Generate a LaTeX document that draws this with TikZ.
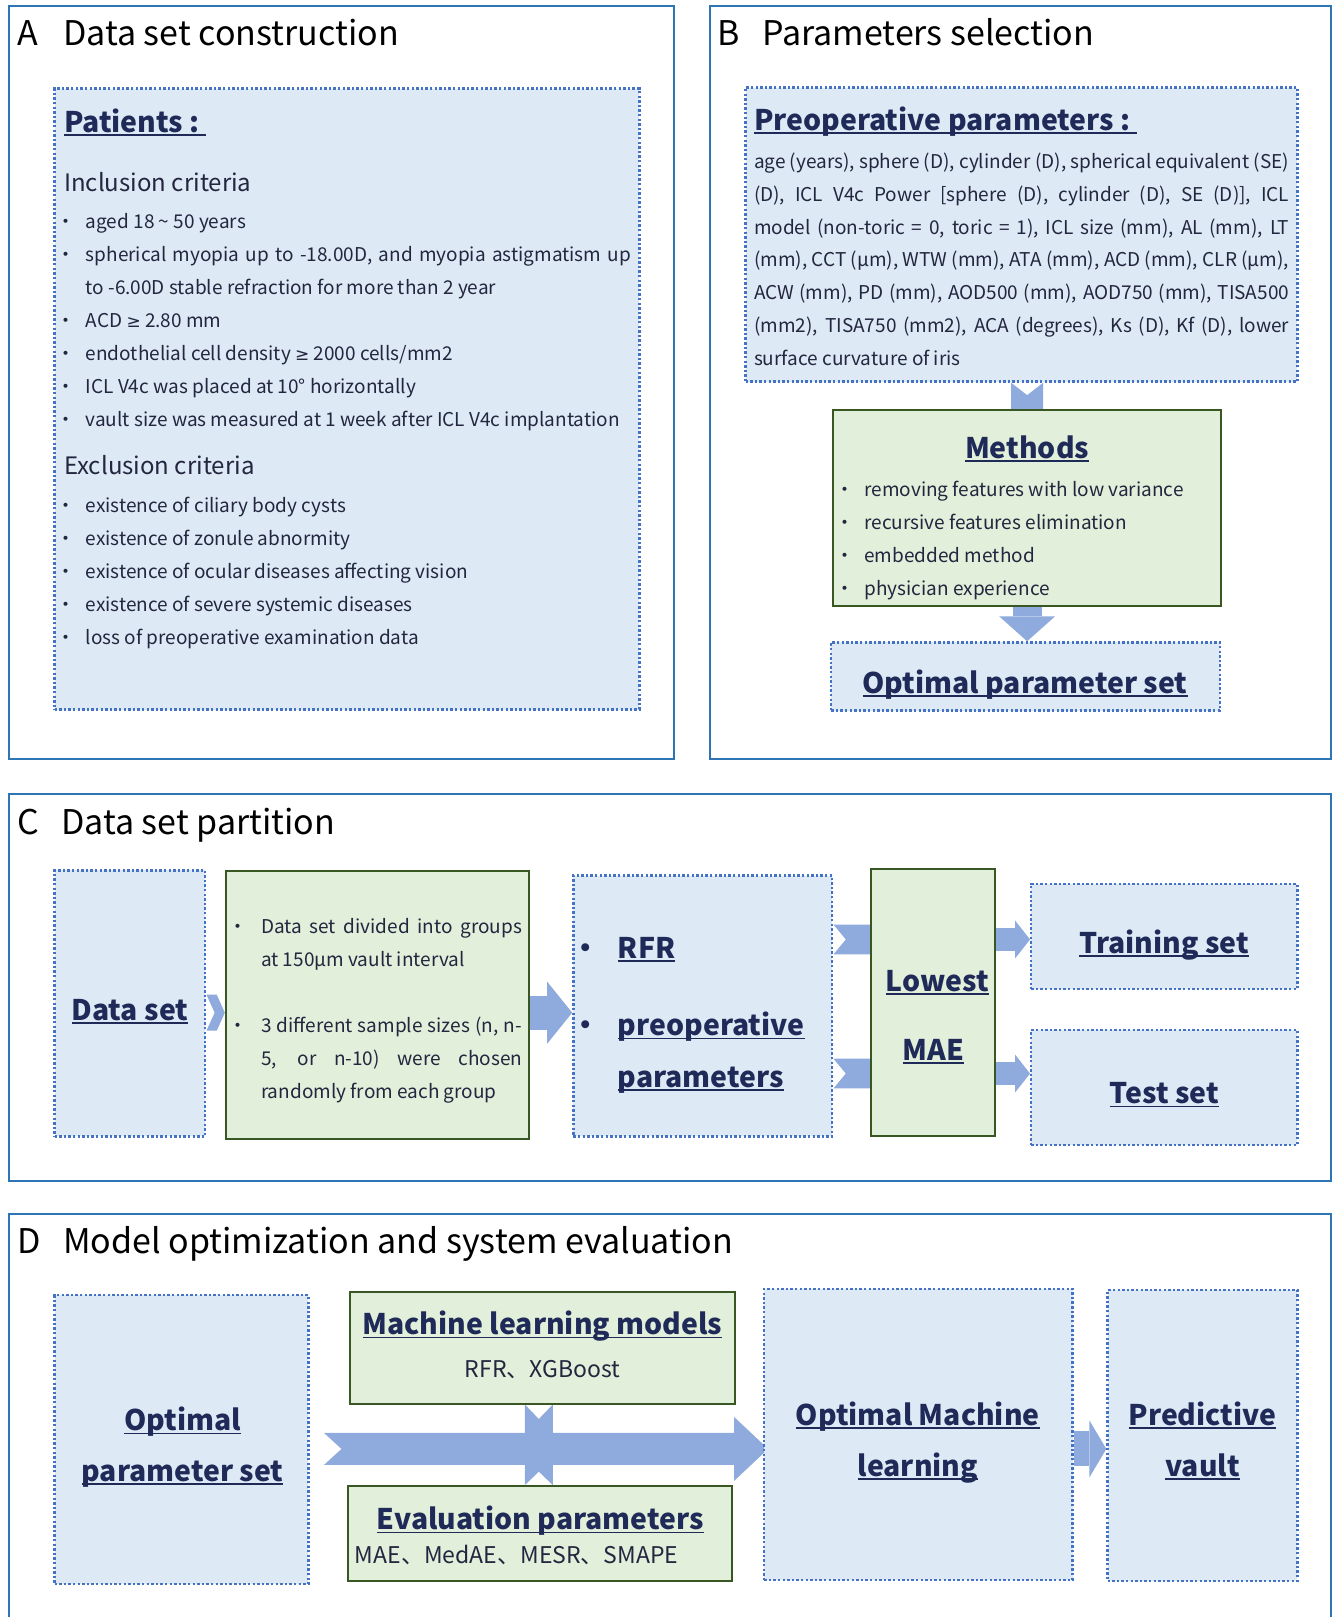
\documentclass[tikz,border=0pt]{standalone}
\usepackage{fontspec}
\setmainfont{Noto Sans CJK SC}
\newfontfamily\symfont{DejaVu Sans}
\usetikzlibrary{arrows.meta,calc,fit,backgrounds}

\definecolor{panelblue}{RGB}{46,117,182}
\definecolor{dotblue}{RGB}{68,114,196}
\definecolor{boxfill}{RGB}{222,233,246}
\definecolor{greenfill}{RGB}{226,239,218}
\definecolor{greenline}{RGB}{56,87,35}
\definecolor{arrowblue}{RGB}{143,170,220}
\definecolor{navy}{RGB}{31,42,88}
\definecolor{textdark}{RGB}{34,38,62}

% underlined heading text
\newsavebox{\hulbox}
\newcommand{\hul}[1]{\sbox{\hulbox}{#1}\rlap{\rule[-3.6pt]{\wd\hulbox}{1.8pt}}\usebox{\hulbox}}
\newcommand{\geqsym}{{\symfont\fontsize{17}{20}\selectfont ≥}}
\hyphenpenalty=10000
\exhyphenpenalty=10000

\begin{document}
\begin{tikzpicture}[x=1.031pt, y=-1.031pt,
    frame/.style={draw=panelblue, line width=2pt, inner sep=0pt},
    dotbox/.style={draw=dotblue, fill=boxfill, line width=2.4pt, dash pattern=on 2.4pt off 2.2pt, inner sep=0pt},
    greenbox/.style={draw=greenline, fill=greenfill, line width=2pt, inner sep=0pt},
    fat/.style={draw=arrowblue, line width=#1},
    paneltitle/.style={font=\fontsize{34}{40}\selectfont, text=black, inner sep=0pt, anchor=mid west, yshift=-10pt},
    head/.style={font=\bfseries\fontsize{28.4}{34}\selectfont, text=navy, inner sep=0pt, anchor=mid, yshift=-8pt},
    sub/.style={font=\fontsize{24}{28}\selectfont, text=textdark, inner sep=0pt, anchor=mid west, yshift=-6pt},
    body/.style={font=\fontsize{19}{33}\selectfont, text=textdark, inner sep=0pt, anchor=mid west, yshift=-5pt},
    para/.style={font=\fontsize{19}{32.8}\selectfont, text=textdark, inner sep=0pt, anchor=base west, align=justify, yshift=-3pt}]
  \useasboundingbox (0,0) rectangle (1292,1568);

  % panel frames
  \node[frame, fit={(9,6) (654,736)}] (panelA) {};
  \node[frame, fit={(688,6) (1291,736)}] (panelB) {};
  \node[frame, fit={(9,770) (1291,1145)}] (panelC) {};
  \node[frame, fit={(9,1177) (1291,1580)}] (panelD) {};
  \node[paneltitle] (tA) at (17,32) {A};
  \node[paneltitle] (tAt) at (61,32) {Data set construction};
  \node[paneltitle] (tB) at (696,32) {B};
  \node[paneltitle] (tBt) at (739,32) {Parameters selection};
  \node[paneltitle] (tC) at (17,797) {C};
  \node[paneltitle] (tCt) at (59,797) {Data set partition};
  \node[paneltitle] (tD) at (17,1203) {D};
  \node[paneltitle] (tDt) at (61,1203) {Model optimization and system evaluation};

  % A
  \node[dotbox, fit={(53,86) (620,688)}] (patients) {};
  \node[head, anchor=mid west] (patT) at (62,118) {\hul{Patients :\ }};
  \node[sub] (incl) at (62,177) {Inclusion criteria};
  \node[sub] (excl) at (62,452) {Exclusion criteria};
  \foreach \y in {214,246,310,342,374,406,489,521,553,585,617}
    \node[body] (bA\y) at (55,\y) {•};
  \foreach \y/\t in {214/{aged 18 \textasciitilde{} 50 years},
      310/{ACD \geqsym{} 2.80 mm},
      342/{endothelial cell density \geqsym{} 2000 cells/mm2},
      374/{ICL V4c was placed at 10° horizontally},
      406/{vault size was measured at 1 week after ICL V4c implantation},
      489/{existence of ciliary body cysts},
      521/{existence of zonule abnormity},
      553/{existence of ocular diseases affecting vision},
      585/{existence of severe systemic diseases},
      617/{loss of preoperative examination data}}
    \node[body] (iA\y) at (83,\y) {\t};
  \node[para, text width=545pt] (iA246) at (83,250.5)
    {spherical myopia up to -18.00D, and myopia astigmatism up\linebreak
     to -6.00D stable refraction for more than 2 year};

  % B
  \node[dotbox, fit={(723,85) (1258,370)}] (preop) {};
  \node[head, anchor=mid west] (preT) at (731,116) {\hul{Preoperative parameters :\ }};
  \node[para, text width=535pt] (preL) at (731,160.5)
    {age (years), sphere (D), cylinder (D), spherical equivalent (SE)\linebreak
     (D), ICL V4c Power [sphere (D), cylinder (D), SE (D)], ICL\linebreak
     model (non-toric = 0, toric = 1), ICL size (mm), AL (mm), LT\linebreak
     (mm), CCT (µm), WTW (mm), ATA (mm), ACD (mm), CLR (µm),\linebreak
     ACW (mm), PD (mm), AOD500 (mm), AOD750 (mm), TISA500\linebreak
     (mm2), TISA750 (mm2), ACA (degrees), Ks (D), Kf (D), lower\linebreak
     surface curvature of iris};
  \node[greenbox, fit={(808,398) (1184,588)}] (methods) {};
  \node[head] (methT) at (996,434) {\hul{Methods}};
  \foreach \y/\t in {474/{removing features with low variance},
      506/{recursive features elimination},
      538/{embedded method},
      570/{physician experience}} {
    \node[body] (bM\y) at (810,\y) {•};
    \node[body] (iM\y) at (838,\y) {\t};
  }
  \node[dotbox, fit={(806,623) (1183,689)}] (optset) {};
  \node[head] (optsetT) at (994,662) {\hul{Optimal parameter set}};

  % C
  \node[dotbox, fit={(53,844) (199,1102)}] (dataset) {};
  \node[head] (datasetT) at (126,979) {\hul{Data set}};
  \node[greenbox, fit={(219,845) (513,1104)}] (split) {};
  \node[body] (bS1) at (221,898) {•};
  \node[body] (bS2) at (221,994) {•};
  \node[para, text width=261pt] (iS1) at (253,902.5)
    {Data set divided into groups\linebreak at 150µm vault interval};
  \node[para, text width=261pt] (iS2) at (253,998.5)
    {3 different sample sizes (n, n-\linebreak 5, or n-10) were chosen\linebreak randomly from each group};
  \node[dotbox, fit={(556,849) (807,1102)}] (rfr) {};
  \node[head, anchor=mid west] (bR1) at (554,919) {•};
  \node[head, anchor=mid west] (bR2) at (554,994) {•};
  \node[head, anchor=mid west] (rfrT) at (599,919) {\hul{RFR}};
  \node[head, anchor=mid west] (preT1) at (599,994) {\hul{preoperative}};
  \node[head, anchor=mid west] (preT2) at (599,1044) {\hul{parameters}};
  \node[greenbox, fit={(845,843) (965,1102)}] (mae) {};
  \node[head] (maeT1) at (909,951) {\hul{Lowest}};
  \node[head] (maeT2) at (905,1018) {\hul{MAE}};
  \node[dotbox, fit={(1000,857) (1258,959)}] (train) {};
  \node[head] (trainT) at (1129,914) {\hul{Training set}};
  \node[dotbox, fit={(1000,999) (1258,1110)}] (test) {};
  \node[head] (testT) at (1129,1060) {\hul{Test set}};

  % D
  \node[dotbox, fit={(53,1256) (299,1536)}] (optin) {};
  \node[head] (optinT1) at (177,1377) {\hul{Optimal}};
  \node[head] (optinT2) at (177,1426) {\hul{parameter set}};
  \node[greenbox, fit={(339,1253) (713,1361)}] (mlmodels) {};
  \node[head] (mlT) at (526,1284) {\hul{Machine learning models}};
  \node[body, anchor=mid, font=\fontsize{23}{26}\selectfont] (mlL) at (526,1328) {RFR、XGBoost};
  \node[greenbox, fit={(337,1441) (710,1533)}] (evalpar) {};
  \node[head] (evT) at (524,1473) {\hul{Evaluation parameters}};
  \node[body, font=\fontsize{23}{26}\selectfont] (evL) at (344,1509) {MAE、MedAE、MESR、SMAPE};
  \node[dotbox, fit={(741,1250) (1040,1532)}] (optml) {};
  \node[head] (optmlT1) at (890,1372) {\hul{Optimal Machine}};
  \node[head] (optmlT2) at (890,1421) {\hul{learning}};
  \node[dotbox, fit={(1074,1251) (1258,1533)}] (vault) {};
  \node[head] (vaultT1) at (1166,1372) {\hul{Predictive}};
  \node[head] (vaultT2) at (1166,1421) {\hul{vault}};

  \coordinate (rowC) at (0,982);
  \coordinate (rowT) at (0,911);
  \coordinate (rowB) at (0,1041);
  \coordinate (rowD) at (0,1405);

  \begin{scope}[on background layer]
    % B arrows
    \fill[arrowblue] ($(preop.south -| methods.north)+(-15.5,0)$) -- ++(15.5,12) -- ++(15.5,-12)
      -- ($(methods.north)+(15.5,10)$) -- ($(methods.north)+(-15.5,10)$) -- cycle;
    \draw[fat=29pt, -{Triangle[width=56pt,length=25pt,line width=0pt]}] (methods.south) -- (methods.south |- optset.north);
    % C arrows
    \fill[arrowblue] ($(dataset.east |- rowC)+(0,-17.5)$) -- ++(10,0) -- (split.west |- rowC)
      -- ($(dataset.east |- rowC)+(10,17.5)$) -- ++(-10,0) -- ++(8,-17.5) -- cycle;
    \draw[fat=34pt, -{Triangle[width=62pt,length=25pt,line width=0pt]}] (split.east |- rowC) -- (rfr.west |- rowC);
    \foreach \r in {rowT,rowB} {
      \fill[arrowblue] ($(rfr.east |- \r)+(0,-14.5)$) -- ($(mae.west |- \r)+(5,-14.5)$) -- ($(mae.west |- \r)+(17,0)$)
        -- ($(mae.west |- \r)+(5,14.5)$) -- ($(rfr.east |- \r)+(0,14.5)$) -- ($(rfr.east |- \r)+(12,0)$) -- cycle;
      \draw[fat=23pt, -{Triangle[width=38pt,length=15pt,line width=0pt]}] (mae.east |- \r) -- (train.west |- \r);
    }
    % D arrows
    \fill[arrowblue] ($(optin.east |- rowD)+(14,-15.5)$) -- ($(optml.west |- rowD)+(-28,-15.5)$) -- ++(0,-15.5)
      -- ($(optml.west |- rowD)+(5,0)$) -- ($(optml.west |- rowD)+(-28,31)$) -- ++(0,-15.5)
      -- ($(optin.east |- rowD)+(14,15.5)$) -- ++(17,-15.5) -- cycle;
    \fill[arrowblue] ($(mlmodels.south)+(-17,0)$) -- ++(13.5,14) -- ++(13.5,-14)
      -- ($(mlmodels.south |- evalpar.north)+(10,0)$) -- ++(-13.5,-13) -- ++(-13.5,13) -- cycle;
    \draw[fat=35pt, -{Triangle[width=57pt,length=17pt,line width=0pt]}] (optml.east |- rowD) -- (vault.west |- rowD);
  \end{scope}
\end{tikzpicture}
\end{document}
